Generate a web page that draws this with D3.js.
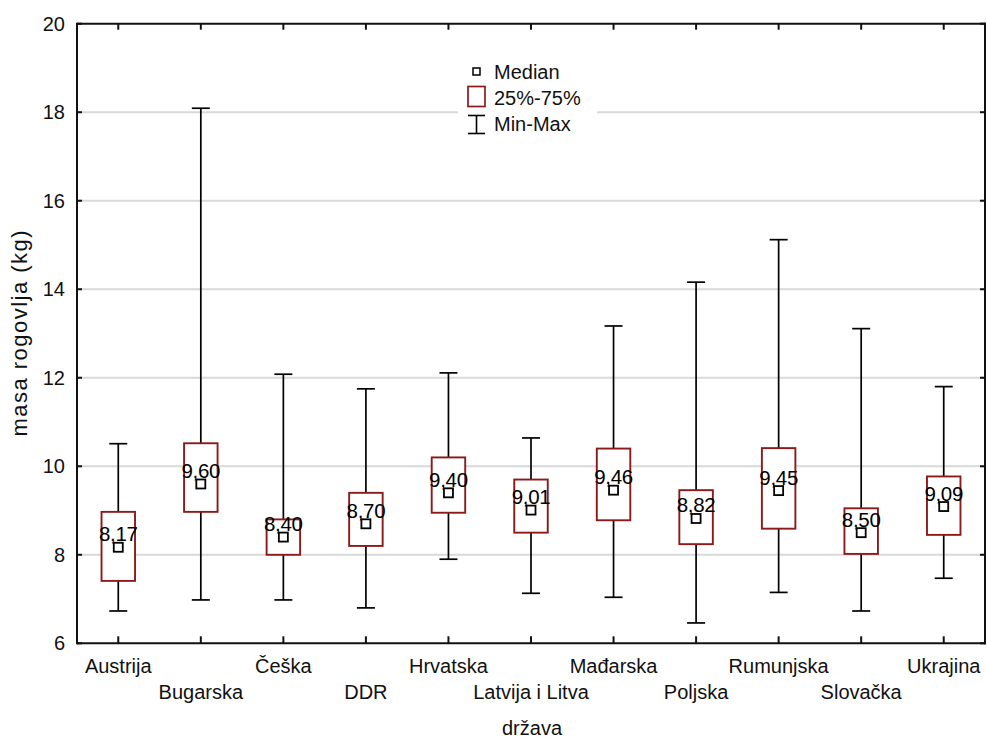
<!DOCTYPE html>
<html>
<head>
<meta charset="utf-8">
<script src="https://cdn.jsdelivr.net/npm/d3@7"></script>
<style>
  html, body { margin: 0; padding: 0; background: #fff; }
  svg { display: block; font-family: Arial, "Liberation Sans", sans-serif; }
</style>
</head>
<body>
<svg id="chart" width="987" height="740"></svg>
<script>
// ---- data ----
const categories = ["Austrija", "Bugarska", "Češka", "DDR", "Hrvatska", "Latvija i Litva",
                    "Mađarska", "Poljska", "Rumunjska", "Slovačka", "Ukrajina"];
const medians = [8.17, 9.60, 8.40, 8.70, 9.40, 9.01, 9.46, 8.82, 9.45, 8.50, 9.09];
const q1s     = [7.41, 8.97, 8.00, 8.20, 8.95, 8.50, 8.78, 8.24, 8.59, 8.02, 8.45];
const q3s     = [8.97, 10.52, 8.80, 9.40, 10.20, 9.70, 10.40, 9.46, 10.41, 9.05, 9.77];
const mins    = [6.73, 6.98, 6.98, 6.80, 7.90, 7.13, 7.04, 6.46, 7.15, 6.73, 7.47];
const maxs    = [10.51, 18.09, 12.08, 11.75, 12.11, 10.64, 13.17, 14.16, 15.12, 13.11, 11.80];
const medianLabels = ["8,17", "9,60", "8,40", "8,70", "9,40", "9,01", "9,46", "8,82", "9,45", "8,50", "9,09"];
const yTicks = [6, 8, 10, 12, 14, 16, 18, 20];
const legendLabels = ["Median", "25%-75%", "Min-Max"];
const xTitle = "država";
const yTitle = "masa rogovlja (kg)";

const rows = categories.map((c, i) => ({
  cat: c, med: medians[i], q1: q1s[i], q3: q3s[i], min: mins[i], max: maxs[i], label: medianLabels[i], i
}));

// ---- layout ----
const svg = d3.select("#chart");
const L = 77, R = 985, T = 23.7, B = 643.3;
const boxColor = "#8c1a1a";

const x = d3.scaleBand().domain(categories).range([L, R]).padding(0);
const y = d3.scaleLinear().domain([6, 20]).range([B, T]);
const cx = c => x(c) + x.bandwidth() / 2;

// gridlines
svg.append("g").selectAll("line")
  .data(yTicks.filter(v => v > 6 && v < 20))
  .join("line")
  .attr("x1", L).attr("x2", R)
  .attr("y1", d => y(d)).attr("y2", d => y(d))
  .attr("stroke", "#d9d9d9").attr("stroke-width", 2);

// legend background (hides gridline)
const lg = svg.append("g");
lg.append("rect").attr("x", 458).attr("y", 55).attr("width", 139).attr("height", 85).attr("fill", "#fff");

// whiskers
const g = svg.append("g");
g.selectAll("line.wh").data(rows).join("line").attr("class", "wh")
  .attr("x1", d => cx(d.cat)).attr("x2", d => cx(d.cat))
  .attr("y1", d => y(d.min)).attr("y2", d => y(d.max))
  .attr("stroke", "#000").attr("stroke-width", 1.7);
["min", "max"].forEach(k => {
  g.selectAll("line.cap" + k).data(rows).join("line").attr("class", "cap" + k)
    .attr("x1", d => cx(d.cat) - 9).attr("x2", d => cx(d.cat) + 9)
    .attr("y1", d => y(d[k])).attr("y2", d => y(d[k]))
    .attr("stroke", "#000").attr("stroke-width", 1.7);
});
// boxes
const bw = 33.5;
g.selectAll("rect.box").data(rows).join("rect").attr("class", "box")
  .attr("x", d => cx(d.cat) - bw / 2).attr("width", bw)
  .attr("y", d => y(d.q3)).attr("height", d => y(d.q1) - y(d.q3))
  .attr("fill", "#fff").attr("stroke", boxColor).attr("stroke-width", 1.9);
// median labels
g.selectAll("text.ml").data(rows).join("text").attr("class", "ml")
  .attr("x", d => cx(d.cat)).attr("y", d => y(d.med) - 6)
  .attr("text-anchor", "middle").attr("font-size", 20.5).attr("fill", "#000")
  .attr("letter-spacing", -0.3)
  .text(d => d.label);
// median squares
const ms = 9;
g.selectAll("rect.med").data(rows).join("rect").attr("class", "med")
  .attr("x", d => cx(d.cat) - ms / 2).attr("y", d => y(d.med) - ms / 2)
  .attr("width", ms).attr("height", ms)
  .attr("fill", "#fff").attr("stroke", "#000").attr("stroke-width", 1.8);

// frame
const fr = svg.append("g").attr("stroke", "#111").attr("stroke-width", 2);
fr.append("line").attr("x1", L).attr("x2", R + 1).attr("y1", T).attr("y2", T);
fr.append("line").attr("x1", L).attr("x2", R + 1).attr("y1", B).attr("y2", B);
fr.append("line").attr("x1", L).attr("x2", L).attr("y1", T - 1).attr("y2", B + 1);
fr.append("line").attr("x1", R).attr("x2", R).attr("y1", T - 1).attr("y2", B + 1);

// inward ticks
fr.selectAll("line.tb").data(categories).join("line").attr("class", "tb")
  .attr("x1", d => cx(d)).attr("x2", d => cx(d)).attr("y1", B).attr("y2", B - 7);
fr.selectAll("line.tt").data(categories).join("line").attr("class", "tt")
  .attr("x1", d => cx(d)).attr("x2", d => cx(d)).attr("y1", T).attr("y2", T + 6);
fr.selectAll("line.tl").data(yTicks).join("line").attr("class", "tl")
  .attr("x1", L).attr("x2", L + 5).attr("y1", d => y(d)).attr("y2", d => y(d));
fr.selectAll("line.tr").data(yTicks).join("line").attr("class", "tr")
  .attr("x1", R).attr("x2", R - 5).attr("y1", d => y(d)).attr("y2", d => y(d));

// y tick labels
svg.append("g").selectAll("text").data(yTicks).join("text")
  .attr("x", 65).attr("y", d => y(d)).attr("dy", "0.35em")
  .attr("text-anchor", "end").attr("font-size", 20).attr("fill", "#111")
  .text(d => d);

// category labels (staggered)
svg.append("g").selectAll("text").data(categories).join("text")
  .attr("x", d => cx(d)).attr("y", (d, i) => i % 2 === 0 ? 673 : 699)
  .attr("text-anchor", "middle").attr("font-size", 20).attr("fill", "#111")
  .text(d => d);

// axis titles
svg.append("text").attr("x", 532).attr("y", 735).attr("text-anchor", "middle")
  .attr("font-size", 20).attr("fill", "#111").text(xTitle);
svg.append("text").attr("transform", "translate(27," + ((T + B) / 2) + ") rotate(-90)")
  .attr("text-anchor", "middle").attr("font-size", 22).attr("fill", "#111")
  .attr("textLength", 206).attr("lengthAdjust", "spacing")
  .text(yTitle);

// legend
lg.append("rect").attr("x", 473).attr("y", 68).attr("width", 7).attr("height", 7)
  .attr("fill", "#fff").attr("stroke", "#000").attr("stroke-width", 1.5);
lg.append("rect").attr("x", 468).attr("y", 86.5).attr("width", 17).attr("height", 20)
  .attr("fill", "#fff").attr("stroke", boxColor).attr("stroke-width", 1.7);
lg.append("line").attr("x1", 476.5).attr("x2", 476.5).attr("y1", 115.5).attr("y2", 133.5)
  .attr("stroke", "#000").attr("stroke-width", 1.6);
lg.append("line").attr("x1", 468).attr("x2", 485).attr("y1", 115.5).attr("y2", 115.5)
  .attr("stroke", "#000").attr("stroke-width", 1.6);
lg.append("line").attr("x1", 468).attr("x2", 485).attr("y1", 133.5).attr("y2", 133.5)
  .attr("stroke", "#000").attr("stroke-width", 1.6);
lg.selectAll("text").data(legendLabels).join("text")
  .attr("x", 494).attr("y", (d, i) => [79, 105, 131][i])
  .attr("font-size", 20).attr("fill", "#111").text(d => d);
</script>
</body>
</html>
